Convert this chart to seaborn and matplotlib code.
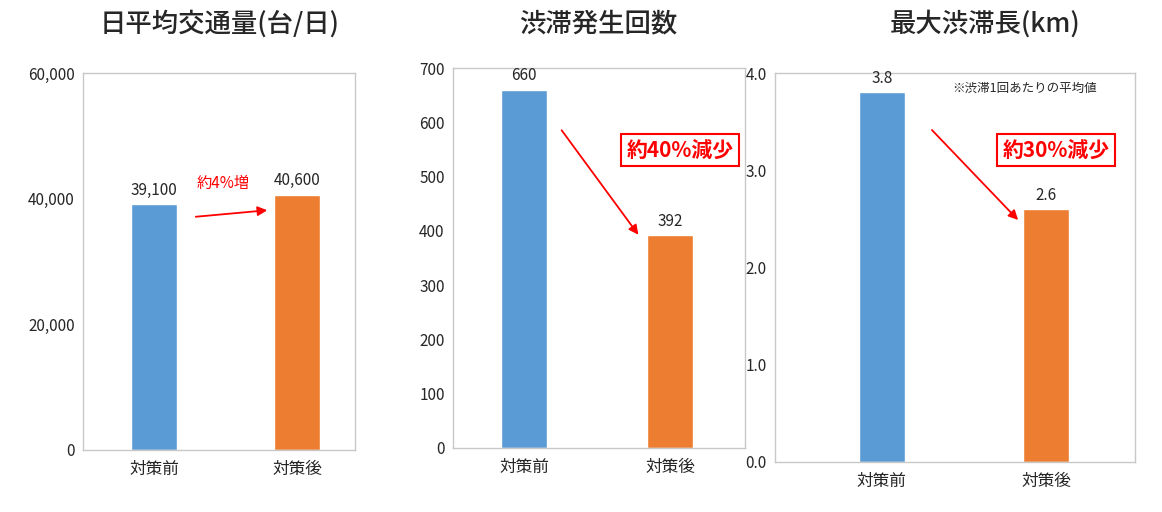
import matplotlib
matplotlib.use("Agg")
import matplotlib.pyplot as plt
import seaborn as sns
import pandas as pd

sns.set_theme(style="white")
plt.rcParams['font.family'] = ['Noto Sans CJK JP', 'DejaVu Sans']

categories = ["対策前", "対策後"]
traffic = [39100, 40600]
jam_count = [660, 392]
jam_length = [3.8, 2.6]
traffic_labels = ["39,100", "40,600"]
count_labels = ["660", "392"]
length_labels = ["3.8", "2.6"]
titles = ["日平均交通量(台/日)", "渋滞発生回数", "最大渋滞長(km)"]
colors = ["#5B9BD5", "#ED7D31"]

W, H = 1162, 512
fig = plt.figure(figsize=(W/100, H/100), dpi=100)

def ax_px(x0, y0, x1, y1):
    return fig.add_axes([x0/W, 1-y1/H, (x1-x0)/W, (y1-y0)/H])

def px(x, y):
    return (x/W, 1-y/H)

specs = [
    ((83, 73, 355, 450), traffic, traffic_labels, (0, 60000), [0, 20000, 40000, 60000],
     lambda v: f"{int(v):,}", 0.32, 220, (-0.497, 1.405)),
    ((453, 68, 745, 448), jam_count, count_labels, (0, 700), list(range(0, 701, 100)),
     lambda v: f"{int(v)}", 0.32, 598, (-0.486, 1.514)),
    ((775, 73, 1135, 462), jam_length, length_labels, (0, 4.0), [0, 1, 2, 3, 4],
     lambda v: f"{v:.1f}", 0.28, 985, (-0.652, 1.543)),
]

for (box, vals, labs, ylim, ticks, fmt, bw, tx, xl), title in zip(specs, titles):
    ax = ax_px(*box)
    df = pd.DataFrame({"cat": categories, "val": vals})
    sns.barplot(data=df, x="cat", y="val", hue="cat", palette=colors, width=bw,
                legend=False, ax=ax, saturation=1)
    ax.set_ylim(*ylim)
    ax.set_xlim(*xl)
    ax.set_yticks(ticks)
    ax.set_yticklabels([fmt(t) for t in ticks], fontsize=11)
    ax.tick_params(axis='x', labelsize=12, length=0, pad=8)
    ax.tick_params(axis='y', length=0, pad=6)
    ax.set_xlabel(""); ax.set_ylabel("")
    for s in ax.spines.values():
        s.set_color("#C8C8C8"); s.set_linewidth(1)
    for i, (v, l) in enumerate(zip(vals, labs)):
        ax.annotate(l, (i, v), xytext=(0, 4), textcoords="offset points",
                    ha="center", va="bottom", fontsize=11)
    fig.text(tx/W, 1-24/H, title, ha="center", va="center", fontsize=19, fontweight="medium")

red = "#FF0000"
arrow = dict(arrowstyle="-|>", color=red, lw=1.3, mutation_scale=14)
fig.text(*px(223, 183), "約4%増", color=red, ha="center", va="center", fontsize=11)
fig.add_artist(matplotlib.patches.FancyArrowPatch(px(193, 217), px(270, 210),
               transform=fig.transFigure, **arrow))

box = dict(boxstyle="square,pad=0.25", fc="white", ec=red, lw=1.5)
fig.text(*px(680, 150), "約40%減少", color=red, ha="center", va="center",
         fontsize=15, fontweight="bold", bbox=box)
fig.add_artist(matplotlib.patches.FancyArrowPatch(px(560, 128), px(640, 237),
               transform=fig.transFigure, **arrow))
fig.text(*px(1056, 150), "約30%減少", color=red, ha="center", va="center",
         fontsize=15, fontweight="bold", bbox=box)
fig.add_artist(matplotlib.patches.FancyArrowPatch(px(930, 128), px(1020, 222),
               transform=fig.transFigure, **arrow))
fig.text(*px(1025, 88), "※渋滞1回あたりの平均値", ha="center", va="center", fontsize=9)

fig.savefig("out.png", dpi=100, facecolor="white")
